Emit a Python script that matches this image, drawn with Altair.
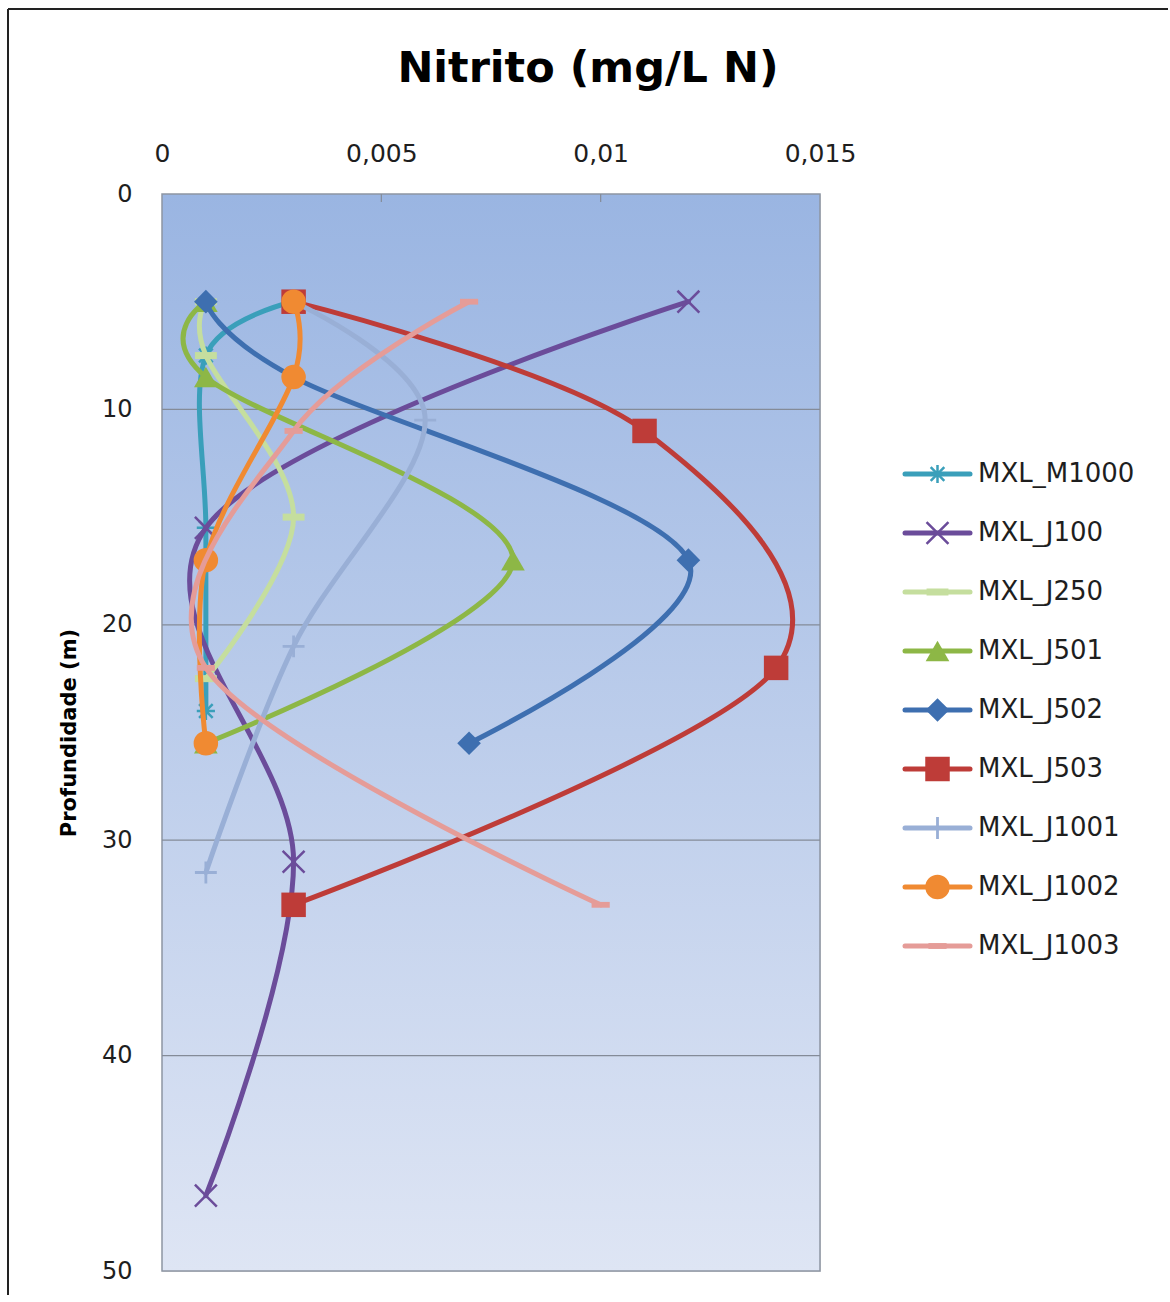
import altair as alt
import pandas as pd

# ---- text -----------------------------------------------------------------
TITLE = "Nitrito (mg/L N)"
Y_TITLE = "Profundidade (m)"
FONT = "DejaVu Sans"

# ---- axis ticks -----------------------------------------------------------
X_TICKS = [0, 0.005, 0.01, 0.015]
Y_TICKS = [0, 10, 20, 30, 40, 50]

# ---- profiles: depth (m) and nitrite (mg/L N) ------------------------------
SERIES = ["MXL_M1000", "MXL_J100", "MXL_J250", "MXL_J501", "MXL_J502",
          "MXL_J503", "MXL_J1001", "MXL_J1002", "MXL_J1003"]

m1000_depth = [5, 7.5, 15.5, 24]
m1000_no2 = [0.003, 0.001, 0.001, 0.001]

j100_depth = [5, 15.5, 31, 46.5]
j100_no2 = [0.012, 0.001, 0.003, 0.001]

j250_depth = [5, 7.5, 15, 22.5]
j250_no2 = [0.001, 0.001, 0.003, 0.001]

j501_depth = [5, 8.5, 17, 25.5]
j501_no2 = [0.001, 0.001, 0.008, 0.001]

j502_depth = [5, 8.5, 17, 25.5]
j502_no2 = [0.001, 0.003, 0.012, 0.007]

j503_depth = [5, 11, 22, 33]
j503_no2 = [0.003, 0.011, 0.014, 0.003]

j1001_depth = [5, 10.5, 21, 31.5]
j1001_no2 = [0.003, 0.006, 0.003, 0.001]

j1002_depth = [5, 8.5, 17, 25.5]
j1002_no2 = [0.003, 0.003, 0.001, 0.001]

j1003_depth = [5, 11, 22, 33]
j1003_no2 = [0.007, 0.003, 0.001, 0.010]

PROFILES = [
    (m1000_depth, m1000_no2), (j100_depth, j100_no2), (j250_depth, j250_no2),
    (j501_depth, j501_no2), (j502_depth, j502_no2), (j503_depth, j503_no2),
    (j1001_depth, j1001_no2), (j1002_depth, j1002_no2), (j1003_depth, j1003_no2),
]

# ---- styling ----------------------------------------------------------------
COLORS = ["#3A9FBA", "#6B4C9A", "#C5DE9E", "#8DB746", "#3E6FB0",
          "#BE3C38", "#99AFD6", "#F08A32", "#E59C98"]

ASTERISK = "M0,-1V1M-0.75,-0.75L0.75,0.75M-0.75,0.75L0.75,-0.75M-1,0H1"
XMARK = "M-1,-1L1,1M-1,1L1,-1"
PLUS = "M-1,0H1M0,-1V1"
DASH = "M-1,-0.32H1V0.32H-1Z"

MARKERS = {
    "MXL_M1000": dict(shape=ASTERISK, filled=False, size=330, strokeWidth=2.5),
    "MXL_J100": dict(shape=XMARK, filled=False, size=480, strokeWidth=2.5),
    "MXL_J250": dict(shape=DASH, filled=True, size=480),
    "MXL_J501": dict(shape="triangle-up", filled=True, size=560),
    "MXL_J502": dict(shape="diamond", filled=True, size=560),
    "MXL_J503": dict(shape="square", filled=True, size=600),
    "MXL_J1001": dict(shape=PLUS, filled=False, size=480, strokeWidth=2.8),
    "MXL_J1002": dict(shape="circle", filled=True, size=600),
    "MXL_J1003": dict(shape=DASH, filled=True, size=330),
}

# layout (page pixels)
PLOT_LEFT, PLOT_TOP = 162, 193
W, H = 658, 1077
FRAME_LEFT, FRAME_TOP, FRAME_RIGHT, FRAME_BOTTOM = 8, 8, 1168, 1294
LEG_TOP, LEG_BOTTOM = 473, 945
LEG_LINE_X0, LEG_LINE_X1, LEG_TEXT_X = 905, 970, 978
TEXT_COLOR = "#1e1e1e"

# ---- data table -------------------------------------------------------------
rows = []
for name, (depths, values) in zip(SERIES, PROFILES):
    for i, (d, v) in enumerate(zip(depths, values)):
        rows.append({"series": name, "idx": i, "depth": d, "nitrite": v})
df = pd.DataFrame(rows)

# ---- scales / axes ------------------------------------------------------------
x_scale = alt.Scale(domain=[X_TICKS[0], X_TICKS[-1]], nice=False, zero=False)
y_scale = alt.Scale(domain=[Y_TICKS[0], Y_TICKS[-1]], reverse=True, nice=False, zero=False)
color_scale = alt.Scale(domain=SERIES, range=COLORS)

x_axis = alt.Axis(orient="top", values=X_TICKS,
                  labelExpr="replace(toString(datum.value), '.', ',')",
                  grid=False, ticks=False, domain=False, labelFlush=False,
                  labelPadding=28, labelFontSize=25, labelFont=FONT,
                  labelColor=TEXT_COLOR)
y_axis = alt.Axis(values=Y_TICKS, grid=False, ticks=False, domain=False,
                  labelFlush=False, labelPadding=30, labelFontSize=24,
                  labelFont=FONT, labelColor=TEXT_COLOR,
                  titleFont=FONT, titleFontSize=21, titleFontWeight="bold",
                  titleColor="#000000", titlePadding=22)


def xq(field):
    return alt.X(field, type="quantitative", scale=x_scale, axis=x_axis, title=None)


def yq(field):
    return alt.Y(field, type="quantitative", scale=y_scale, axis=y_axis, title=Y_TITLE)


color_enc = alt.Color("series:N", scale=color_scale, legend=None)

# ---- plot area background and grid -----------------------------------------------
bg_df = pd.DataFrame({"x0": [X_TICKS[0]], "x1": [X_TICKS[-1]],
                      "y0": [Y_TICKS[0]], "y1": [Y_TICKS[-1]]})
background = alt.Chart(bg_df).mark_rect(
    fill=alt.Gradient(
        gradient="linear",
        stops=[alt.GradientStop(color="#9AB5E2", offset=0),
               alt.GradientStop(color="#DEE5F4", offset=1)],
        x1=0, x2=0, y1=0, y2=1),
    stroke="#8d95a3", strokeWidth=1.5,
).encode(x=xq("x0"), x2="x1", y=yq("y0"), y2="y1")

grid_df = pd.DataFrame({"depth": Y_TICKS[1:-1]})
grid = alt.Chart(grid_df).mark_rule(color="#848b98", strokeWidth=1.2).encode(
    y=yq("depth"), x=alt.datum(X_TICKS[0]), x2=alt.datum(X_TICKS[-1]))

tick_df = pd.DataFrame({"nitrite": X_TICKS[1:-1]})
inner_ticks = alt.Chart(tick_df).mark_rule(color="#848b98", strokeWidth=1.2).encode(
    x=xq("nitrite"), y=alt.value(0), y2=alt.value(8))

# ---- profiles: smoothed line then markers, series by series -------------------------
series_layers = []
for name in SERIES:
    sub = df[df["series"] == name]
    line = alt.Chart(sub).mark_line(
        interpolate="cardinal", strokeWidth=5, strokeCap="round", strokeJoin="round"
    ).encode(x=xq("nitrite"), y=yq("depth"), order="idx:Q", color=color_enc)
    pts = alt.Chart(sub).mark_point(opacity=1, **MARKERS[name]).encode(
        x=xq("nitrite"), y=yq("depth"), color=color_enc)
    series_layers += [line, pts]

# ---- outer chart frame ---------------------------------------------------------
frame_df = pd.DataFrame({"k": [0]})
frame_left = alt.Chart(frame_df).mark_rule(color="#222222", strokeWidth=2).encode(
    x=alt.value(FRAME_LEFT - PLOT_LEFT),
    y=alt.value(FRAME_TOP - PLOT_TOP), y2=alt.value(FRAME_BOTTOM - PLOT_TOP))
frame_top = alt.Chart(frame_df).mark_rule(color="#222222", strokeWidth=2).encode(
    x=alt.value(FRAME_LEFT - PLOT_LEFT), x2=alt.value(FRAME_RIGHT - PLOT_LEFT),
    y=alt.value(FRAME_TOP - PLOT_TOP))

plot = alt.layer(background, grid, inner_ticks, *series_layers, frame_left, frame_top)

# ---- legend -------------------------------------------------------------------
leg_df = pd.DataFrame({"series": SERIES})
leg_y = alt.Y("series:N",
              scale=alt.Scale(type="point", domain=SERIES, padding=0,
                              range=[LEG_TOP - PLOT_TOP, LEG_BOTTOM - PLOT_TOP]),
              axis=None)
leg_lines = alt.Chart(leg_df).mark_rule(strokeWidth=5, strokeCap="round").encode(
    x=alt.value(LEG_LINE_X0 - PLOT_LEFT), x2=alt.value(LEG_LINE_X1 - PLOT_LEFT),
    y=leg_y, color=color_enc)
leg_marks = []
for name in SERIES:
    leg_marks.append(
        alt.Chart(leg_df[leg_df["series"] == name]).mark_point(opacity=1, **MARKERS[name]).encode(
            x=alt.value((LEG_LINE_X0 + LEG_LINE_X1) / 2 - PLOT_LEFT), y=leg_y, color=color_enc))
leg_text = alt.Chart(leg_df).mark_text(
    align="left", baseline="middle", font=FONT, fontSize=26, color=TEXT_COLOR
).encode(x=alt.value(LEG_TEXT_X - PLOT_LEFT), y=leg_y, text="series:N")

legend = alt.layer(leg_lines, *leg_marks, leg_text)

chart = alt.layer(plot, legend).resolve_scale(y="independent").properties(
    width=W, height=H,
    padding={"left": 7, "top": 8, "right": 0, "bottom": 0},
    title=alt.TitleParams(TITLE, font=FONT, fontSize=43, fontWeight="bold",
                          color="#000000", anchor="middle", frame="bounds",
                          baseline="alphabetic", offset=-117),
).configure_view(strokeWidth=0).configure(background="white")

chart.save("out.html", embed_options={"renderer": "svg", "actions": False})
